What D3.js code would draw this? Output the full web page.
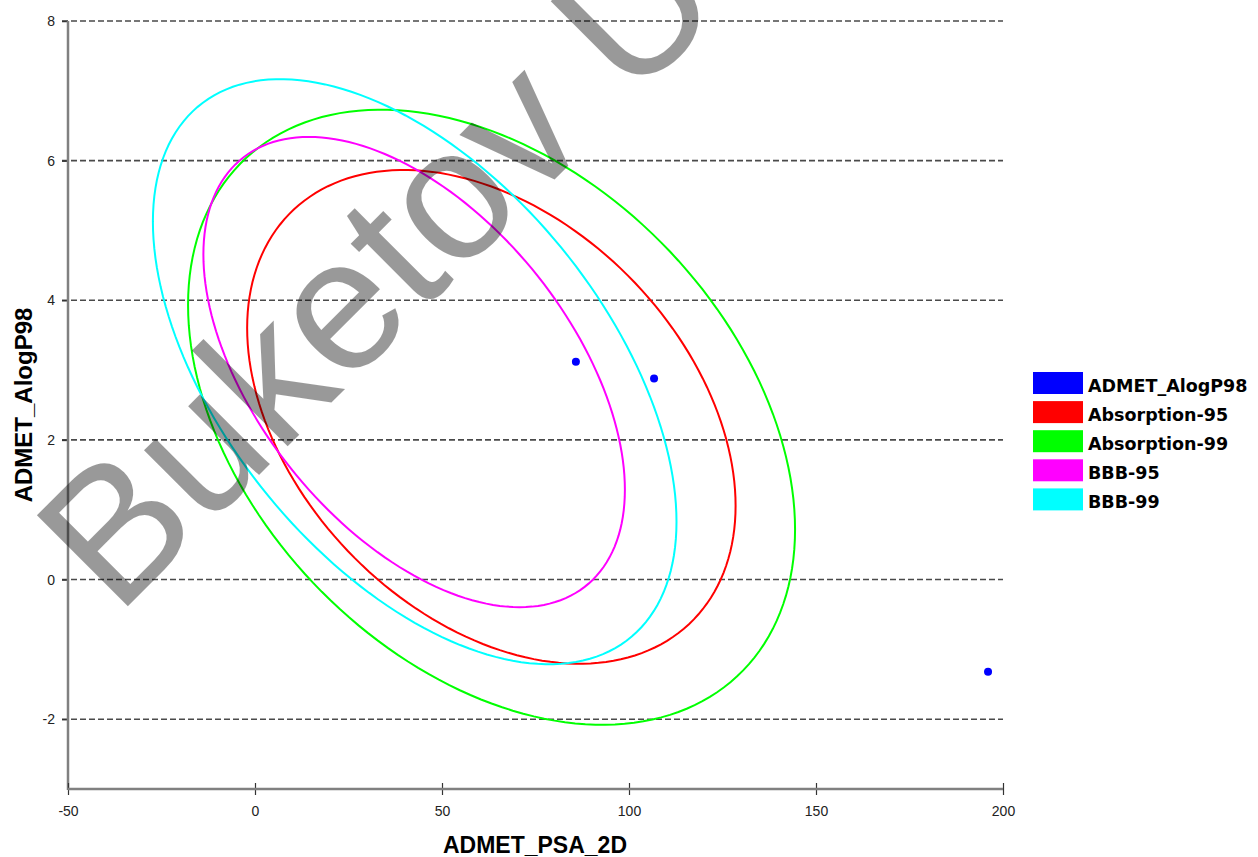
<!DOCTYPE html>
<html>
<head>
<meta charset="utf-8">
<script src="https://cdn.jsdelivr.net/npm/d3@7"></script>
<style>
  html, body { margin: 0; padding: 0; background: #fff; }
  svg { display: block; }
</style>
</head>
<body>
<svg id="chart" width="1258" height="857"></svg>
<script>
// ---- data ----
const xTicks = [-50, 0, 50, 100, 150, 200];
const yTicks = [-2, 0, 2, 4, 6, 8];
const xDomain = [-50, 200];
const yDomain = [-3, 8];

const pointX = [85.8, 106.7, 196.0];
const pointY = [3.12, 2.88, -1.32];

const ellipseNames = ["Absorption-95", "Absorption-99", "BBB-95", "BBB-99"];
const ellipseCX = [63.2, 63.25, 42.55, 42.7];
const ellipseCY = [2.33, 2.325, 2.972, 2.977];
const ellipseHX = [65.3, 81.15, 56.35, 70.0];
const ellipseHY = [3.536, 4.405, 3.368, 4.19];
const ellipseRho = [-0.36, -0.365, -0.50, -0.513];
const ellipseColors = ["#ff0000", "#00ff00", "#ff00ff", "#00ffff"];

const legendNames = ["ADMET_AlogP98", "Absorption-95", "Absorption-99", "BBB-95", "BBB-99"];
const legendColors = ["#0000ff", "#ff0000", "#00ff00", "#ff00ff", "#00ffff"];

// ---- chart ----
const svg = d3.select("#chart");
const x = d3.scaleLinear().domain(xDomain).range([68, 1003]);
const y = d3.scaleLinear().domain(yDomain).range([789, 21]);

// grid lines
svg.append("g").selectAll("line").data(yTicks).join("line")
  .attr("x1", x(xDomain[0]) - 6).attr("x2", x(xDomain[1]))
  .attr("y1", d => y(d)).attr("y2", d => y(d))
  .attr("stroke", "#4a4a4a").attr("stroke-width", 1.6)
  .attr("stroke-dasharray", "6,3");

// y axis
const yAxis = svg.append("g").attr("transform", `translate(${x(xDomain[0])},0)`)
  .call(d3.axisLeft(y).tickValues(yTicks).tickSize(6).tickFormat(d => String(d)));
yAxis.select(".domain").remove();
yAxis.selectAll(".tick line").attr("stroke", "#333").attr("stroke-width", 1.5);
yAxis.selectAll(".tick text").attr("font-family", "Liberation Sans, Arial, sans-serif")
  .attr("font-size", 14).attr("fill", "#222").attr("x", -13);
svg.append("line").attr("x1", x(xDomain[0])).attr("x2", x(xDomain[0]))
  .attr("y1", y(yDomain[1])).attr("y2", y(yDomain[0]) + 1)
  .attr("stroke", "#808080").attr("stroke-width", 2.5);

// x axis
const xAxis = svg.append("g").attr("transform", `translate(0,${y(yDomain[0])})`)
  .call(d3.axisBottom(x).tickValues(xTicks).tickSize(6).tickFormat(d => String(d)));
xAxis.select(".domain").remove();
xAxis.selectAll(".tick line").attr("y1", -6).attr("y2", 6).attr("stroke", "#333").attr("stroke-width", 1.2);
xAxis.selectAll(".tick text").attr("font-family", "Liberation Sans, Arial, sans-serif")
  .attr("font-size", 14).attr("fill", "#222").attr("y", 17);
svg.append("line").attr("x1", x(xDomain[0])).attr("x2", x(xDomain[1]))
  .attr("y1", y(yDomain[0])).attr("y2", y(yDomain[0]))
  .attr("stroke", "#808080").attr("stroke-width", 2.5);

// ellipses (confidence ellipses from center, half-extents and correlation)
const line = d3.line().x(p => x(p[0])).y(p => y(p[1])).curve(d3.curveLinearClosed);
const steps = d3.range(0, 360, 2).map(a => a * Math.PI / 180);
ellipseNames.forEach((name, i) => {
  const s = Math.sqrt(1 - ellipseRho[i] * ellipseRho[i]);
  const pts = steps.map(t => [
    ellipseCX[i] + ellipseHX[i] * Math.cos(t),
    ellipseCY[i] + ellipseHY[i] * (ellipseRho[i] * Math.cos(t) + s * Math.sin(t))
  ]);
  svg.append("path").attr("d", line(pts)).attr("fill", "none")
    .attr("stroke", ellipseColors[i]).attr("stroke-width", 2);
});

// points
svg.append("g").selectAll("circle").data(pointX).join("circle")
  .attr("cx", d => x(d)).attr("cy", (d, i) => y(pointY[i])).attr("r", 4)
  .attr("fill", "#0000ff");

// axis titles
svg.append("text").attr("x", 535).attr("y", 853).attr("text-anchor", "middle")
  .attr("font-family", "Liberation Sans, Arial, sans-serif").attr("font-weight", "bold")
  .attr("font-size", 23).attr("fill", "#000").text("ADMET_PSA_2D");
svg.append("text").attr("transform", "translate(32,405) rotate(-90)").attr("text-anchor", "middle")
  .attr("font-family", "Liberation Sans, Arial, sans-serif").attr("font-weight", "bold")
  .attr("font-size", 24).attr("fill", "#000").text("ADMET_AlogP98");

// legend
const leg = svg.append("g").attr("transform", "translate(1033,372)");
legendNames.forEach((n, i) => {
  leg.append("rect").attr("x", 0).attr("y", i * 29.1).attr("width", 50).attr("height", 22)
    .attr("fill", legendColors[i]);
  leg.append("text").attr("x", 55).attr("y", i * 29.1 + 20)
    .attr("font-family", "DejaVu Sans, Verdana, sans-serif").attr("font-weight", "bold")
    .attr("font-size", 17.5).attr("fill", "#000").text(n);
});

// watermark
svg.append("text").attr("transform", "translate(117,617) rotate(-45)")
  .attr("font-family", "Liberation Sans, Arial, sans-serif").attr("font-size", 187)
  .attr("fill", "#000").attr("fill-opacity", 0.4).text("Buketov U");
</script>
</body>
</html>
